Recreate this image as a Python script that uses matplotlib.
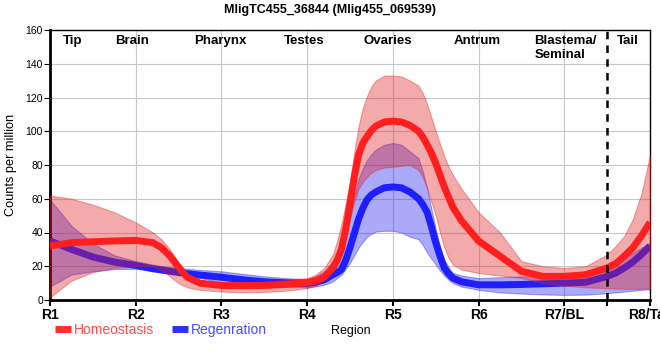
import matplotlib
matplotlib.use('Agg')
import matplotlib.pyplot as plt
from matplotlib.lines import Line2D

plt.rcParams['font.family'] = ['Liberation Sans', 'DejaVu Sans']

# positions along the body (R1 .. R8)
pos = [1.0, 1.25, 1.5, 1.75, 2.0, 2.2, 2.3, 2.4, 2.5, 2.6, 2.75, 3.0, 3.25, 3.5, 3.75,
       4.0, 4.1, 4.2,
       4.3, 4.35, 4.4, 4.45, 4.5, 4.55, 4.6, 4.65, 4.7, 4.75, 4.8,
       4.9, 5.0, 5.1, 5.2,
       5.3, 5.35, 5.4, 5.45, 5.5, 5.55, 5.6, 5.65, 5.7,
       5.8, 6.0, 6.25, 6.5, 6.75, 7.0, 7.25, 7.5, 7.6, 7.7, 7.8, 7.9, 8.0]

homeo = [32, 34, 34.5, 35, 35.3, 34, 31, 26, 19.5, 13.5, 10, 8.6, 8.5, 8.6, 9.2, 10.3, 11.5, 13.5,
         19, 23.5, 30, 42, 57, 73, 86, 93, 97, 100.5, 103,
         105.5, 106, 105.5, 103.5,
         100, 96.5, 92, 87, 81, 74, 67, 61, 55,
         47, 35, 26, 17, 14, 14, 15, 19, 21.5, 26, 31, 38, 46]
homeo_hi = [62, 60, 56.5, 52, 46, 40, 36, 30, 22, 15, 10.5, 10.5, 10.5, 11, 12, 13, 15, 19,
            27, 35, 45, 57, 70, 88, 103, 114, 121, 126.5, 130,
            133, 133, 132.5, 130,
            127, 122.5, 116, 108, 100, 92.5, 85, 79, 74,
            66, 52, 40, 23, 20, 19, 20, 27, 32, 38, 48, 63, 86]
homeo_lo = [1.5, 11.5, 16.5, 19, 20, 20, 17.5, 14, 10, 7.5, 6, 5, 4.5, 4.8, 5.5, 7, 8.5, 12,
            17, 23, 30, 39, 48, 58, 66, 70, 73, 75.5, 77,
            78.5, 79, 79.5, 80,
            77, 72.5, 66, 58, 50, 40, 31, 25, 21,
            18, 16, 14.5, 13, 10, 8.5, 7.5, 7, 6.8, 6.6, 6.6, 6.6, 6.6]

regen = [35, 30, 25.5, 22.5, 20.5, 18.5, 17.8, 17, 16.3, 15.6, 14.8, 13.5, 12, 10.8, 10.2, 9.8, 10.5, 12,
         15, 16.3, 18, 23.5, 31, 39.5, 48, 54.5, 59.5, 62.3, 64,
         66.5, 67, 66.5, 64,
         60, 56.5, 52, 43.5, 34, 26, 19, 15.5, 13,
         10.8, 9, 9, 9.2, 9.6, 10, 10.5, 14, 16, 19, 22.5, 27, 32]
regen_hi = [59.5, 44, 33.5, 26.5, 23, 21, 20, 19.5, 19, 18.5, 17.8, 17, 15.5, 14, 13, 12.2, 14, 17,
            23, 29, 36, 44, 52, 62, 72, 78, 83, 86.5, 89,
            92, 93, 92, 88,
            84, 76, 66, 54, 42, 32, 24, 19.5, 16,
            14.5, 13, 13.5, 14, 14.5, 14, 15.5, 19, 21.5, 25, 28, 31, 34]
regen_lo = [8, 15, 17, 18.3, 18.5, 17.5, 16.5, 15.8, 15, 14, 13, 10.5, 9.5, 8.5, 8, 7.5, 8, 9,
            11, 13, 15, 18.5, 22, 26.5, 31, 34.5, 37.5, 39.3, 40.5,
            41, 41, 40, 37.5,
            36, 32.5, 28, 24.5, 21, 17.5, 14.5, 12, 10,
            8, 6, 4.5, 3.8, 3.3, 3, 3.2, 4, 4.5, 5, 5.5, 6, 6.5]

tick_pos = [1, 2, 3, 4, 5, 6, 7, 8]
tick_labels = ['R1', 'R2', 'R3', 'R4', 'R5', 'R6', 'R7/BL', 'R8/Tail']
organs = [('Tip', 1.26), ('Brain', 1.96), ('Pharynx', 2.99), ('Testes', 3.96),
          ('Ovaries', 4.94), ('Antrum', 5.98), ('Tail', 7.74)]

fig = plt.figure(figsize=(6.6, 3.6), dpi=100)
ax = fig.add_axes([50 / 660, 60 / 360, 600 / 660, 270 / 360])

ax.fill_between(pos, regen_lo, regen_hi, color='#2020f0', alpha=0.38, lw=0.8, zorder=2)
ax.plot(pos, regen, color='#1e1eff', lw=5, solid_capstyle='butt', zorder=3)
ax.fill_between(pos, homeo_lo, homeo_hi, color='#e02020', alpha=0.38, lw=0.8, zorder=4)
ax.plot(pos, homeo, color='#ff1e1e', lw=5, solid_capstyle='butt', zorder=5)

ax.axvline(7.5, color='black', lw=1.8, ls=(0, (3, 2.5)), zorder=6)

ax.set_xlim(1, 8)
ax.set_ylim(0, 160)
ax.set_yticks(range(0, 161, 20))
ax.set_xticks(tick_pos)
ax.set_xticks([7.5], minor=True)
ax.set_xticklabels(tick_labels, fontweight='bold', fontsize=10)
ax.tick_params(axis='y', labelsize=7.5, length=4, width=0.8, pad=1)
ax.tick_params(axis='x', which='both', length=4, width=1.5, pad=2)
ax.grid(True, color='#c8c8c8', lw=0.8, zorder=0)
ax.set_axisbelow(True)

for s in ['left', 'bottom']:
    ax.spines[s].set_linewidth(2)
for s in ['top', 'right']:
    ax.spines[s].set_linewidth(1)

for name, xp in organs:
    ax.text(xp, 151.8, name, ha='center', va='baseline', fontweight='bold', fontsize=9.5)
ax.text(6.65, 151.8, 'Blastema/', ha='left', va='baseline', fontweight='bold', fontsize=9.5)
ax.text(6.65, 143.5, 'Seminal', ha='left', va='baseline', fontweight='bold', fontsize=9.5)

ax.set_ylabel('Counts per million', fontsize=9.2, labelpad=6)
fig.text(351 / 660, 1 - 331 / 360, 'Region', ha='center', va='center', fontsize=9)
fig.text(330 / 660, 1 - 10 / 360, 'MligTC455_36844 (Mlig455_069539)', ha='center',
         va='center', fontweight='bold', fontsize=9)

handles = [Line2D([], [], color='#ff3030', lw=5, solid_capstyle='butt'),
           Line2D([], [], color='#3030ff', lw=5, solid_capstyle='butt')]
fig.legend(handles, ['Homeostasis', 'Regenration'], loc='center left',
           bbox_to_anchor=(55 / 660, 1 - 330 / 360), ncol=2, frameon=False,
           fontsize=10, handlelength=1.15, handletextpad=0.2, columnspacing=1.3,
           borderpad=0, borderaxespad=0, labelcolor=['#ff4a4a', '#4a4aff'])

fig.savefig('out.png', dpi=100)
